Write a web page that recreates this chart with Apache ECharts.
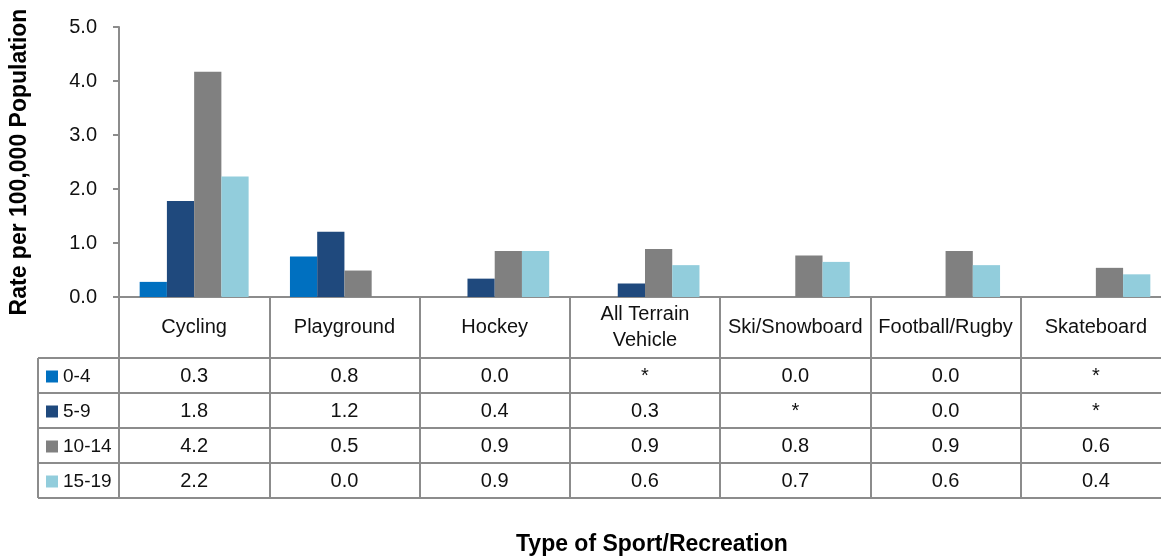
<!DOCTYPE html>
<html>
<head>
<meta charset="utf-8">
<script src="https://cdn.jsdelivr.net/npm/echarts@6/dist/echarts.min.js"></script>
<style>
  html, body { margin: 0; padding: 0; background: #fff; }
  #chart { width: 1161px; height: 559px; }
</style>
</head>
<body>
<div id="chart"></div>
<script>
// categories and age groups
var categories = ['Cycling', 'Playground', 'Hockey', 'All Terrain\nVehicle', 'Ski/Snowboard', 'Football/Rugby', 'Skateboard'];
var ageGroups = ['0-4', '5-9', '10-14', '15-19'];
var yTicks = [0, 1, 2, 3, 4, 5];

// bar heights as drawn (null = suppressed, shown as * in table)
var age0to4 = [0.28, 0.75, 0, null, 0, 0, null];
var age5to9 = [1.78, 1.21, 0.34, 0.25, null, 0, null];
var age10to14 = [4.17, 0.49, 0.85, 0.89, 0.77, 0.85, 0.54];
var age15to19 = [2.23, 0, 0.85, 0.59, 0.65, 0.59, 0.42];

// table text rows
var row0to4 = ['0.3', '0.8', '0.0', '*', '0.0', '0.0', '*'];
var row5to9 = ['1.8', '1.2', '0.4', '0.3', '*', '0.0', '*'];
var row10to14 = ['4.2', '0.5', '0.9', '0.9', '0.8', '0.9', '0.6'];
var row15to19 = ['2.2', '0.0', '0.9', '0.6', '0.7', '0.6', '0.4'];

var colors = ['#0070C0', '#1F497D', '#808080', '#92CDDC'];
var seriesData = [age0to4, age5to9, age10to14, age15to19];
var tableRows = [row0to4, row5to9, row10to14, row15to19];

var FONT = '"Liberation Sans", Arial, sans-serif';
var lineColor = '#8c8c8c';

var gridTop = 27, axisY = 297, headerH = 61, rowH = 35;
var tableLeft = 38, gridLeft = 119;

var myChart = echarts.init(document.getElementById('chart'));

var xAxes = [{
    type: 'category',
    data: categories,
    position: 'bottom',
    axisLine: { lineStyle: { color: lineColor, width: 2 } },
    axisTick: { show: true, interval: 0, length: headerH + rowH * 4, lineStyle: { color: lineColor, width: 2 } },
    axisLabel: {
        interval: 0, margin: 30, verticalAlign: 'middle',
        fontFamily: FONT, fontSize: 20, color: '#111', lineHeight: 26
    }
}];
tableRows.forEach(function (row, i) {
    xAxes.push({
        type: 'category',
        data: row,
        position: 'bottom',
        offset: headerH + rowH * i,
        axisLine: { lineStyle: { color: lineColor, width: 2 } },
        axisTick: { show: false },
        axisLabel: {
            interval: 0, margin: rowH / 2 + 1, verticalAlign: 'middle',
            fontFamily: FONT, fontSize: 20, color: '#111'
        }
    });
});
xAxes.push({
    type: 'category',
    data: categories,
    position: 'bottom',
    offset: headerH + rowH * 4,
    axisLine: { lineStyle: { color: lineColor, width: 2 } },
    axisTick: { show: false },
    axisLabel: { show: false }
});

// left column borders of the data table
var graphics = [];
for (var r = 0; r <= 4; r++) {
    var yy = axisY + headerH + rowH * r;
    graphics.push({ type: 'line', shape: { x1: tableLeft, y1: yy, x2: gridLeft, y2: yy }, style: { stroke: lineColor, lineWidth: 2 } });
}
graphics.push({ type: 'line', shape: { x1: tableLeft, y1: axisY + headerH, x2: tableLeft, y2: axisY + headerH + rowH * 4 }, style: { stroke: lineColor, lineWidth: 2 } });
graphics.push({
    type: 'text', left: 516, top: 533,
    style: { text: 'Type of Sport/Recreation', fontFamily: FONT, fontSize: 23, fontWeight: 'bold', fill: '#000' }
});

myChart.setOption({
    animation: false,
    color: colors,
    grid: { left: gridLeft, top: gridTop, right: -10, bottom: 559 - axisY, containLabel: false, outerBoundsMode: 'none' },
    legend: {
        orient: 'vertical',
        left: 46,
        top: axisY + headerH + (rowH - 20) / 2 + 1,
        padding: 0,
        itemWidth: 12,
        itemHeight: 12,
        itemGap: 15,
        itemTextGap: 4,
        icon: 'rect',
        selectedMode: false,
        data: ageGroups,
        textStyle: { fontFamily: FONT, fontSize: 19, lineHeight: 20, color: '#111' }
    },
    xAxis: xAxes,
    yAxis: {
        type: 'value',
        min: yTicks[0],
        max: yTicks[yTicks.length - 1],
        interval: 1,
        name: 'Rate per 100,000 Population',
        nameLocation: 'middle',
        nameGap: 88,
        nameTextStyle: { fontFamily: FONT, fontSize: 23, fontWeight: 'bold', color: '#000' },
        axisLine: { show: true, lineStyle: { color: lineColor, width: 2 } },
        axisTick: { show: true, length: 6, lineStyle: { color: lineColor, width: 2 } },
        splitLine: { show: false },
        axisLabel: {
            margin: 22,
            fontFamily: FONT, fontSize: 20, color: '#111',
            formatter: function (v) { return v.toFixed(1); }
        }
    },
    series: ageGroups.map(function (name, i) {
        return {
            name: name,
            type: 'bar',
            xAxisIndex: 0,
            barGap: 0,
            barCategoryGap: '27.5%',
            itemStyle: { color: colors[i] },
            data: seriesData[i]
        };
    }),
    graphic: graphics
});
</script>
</body>
</html>
